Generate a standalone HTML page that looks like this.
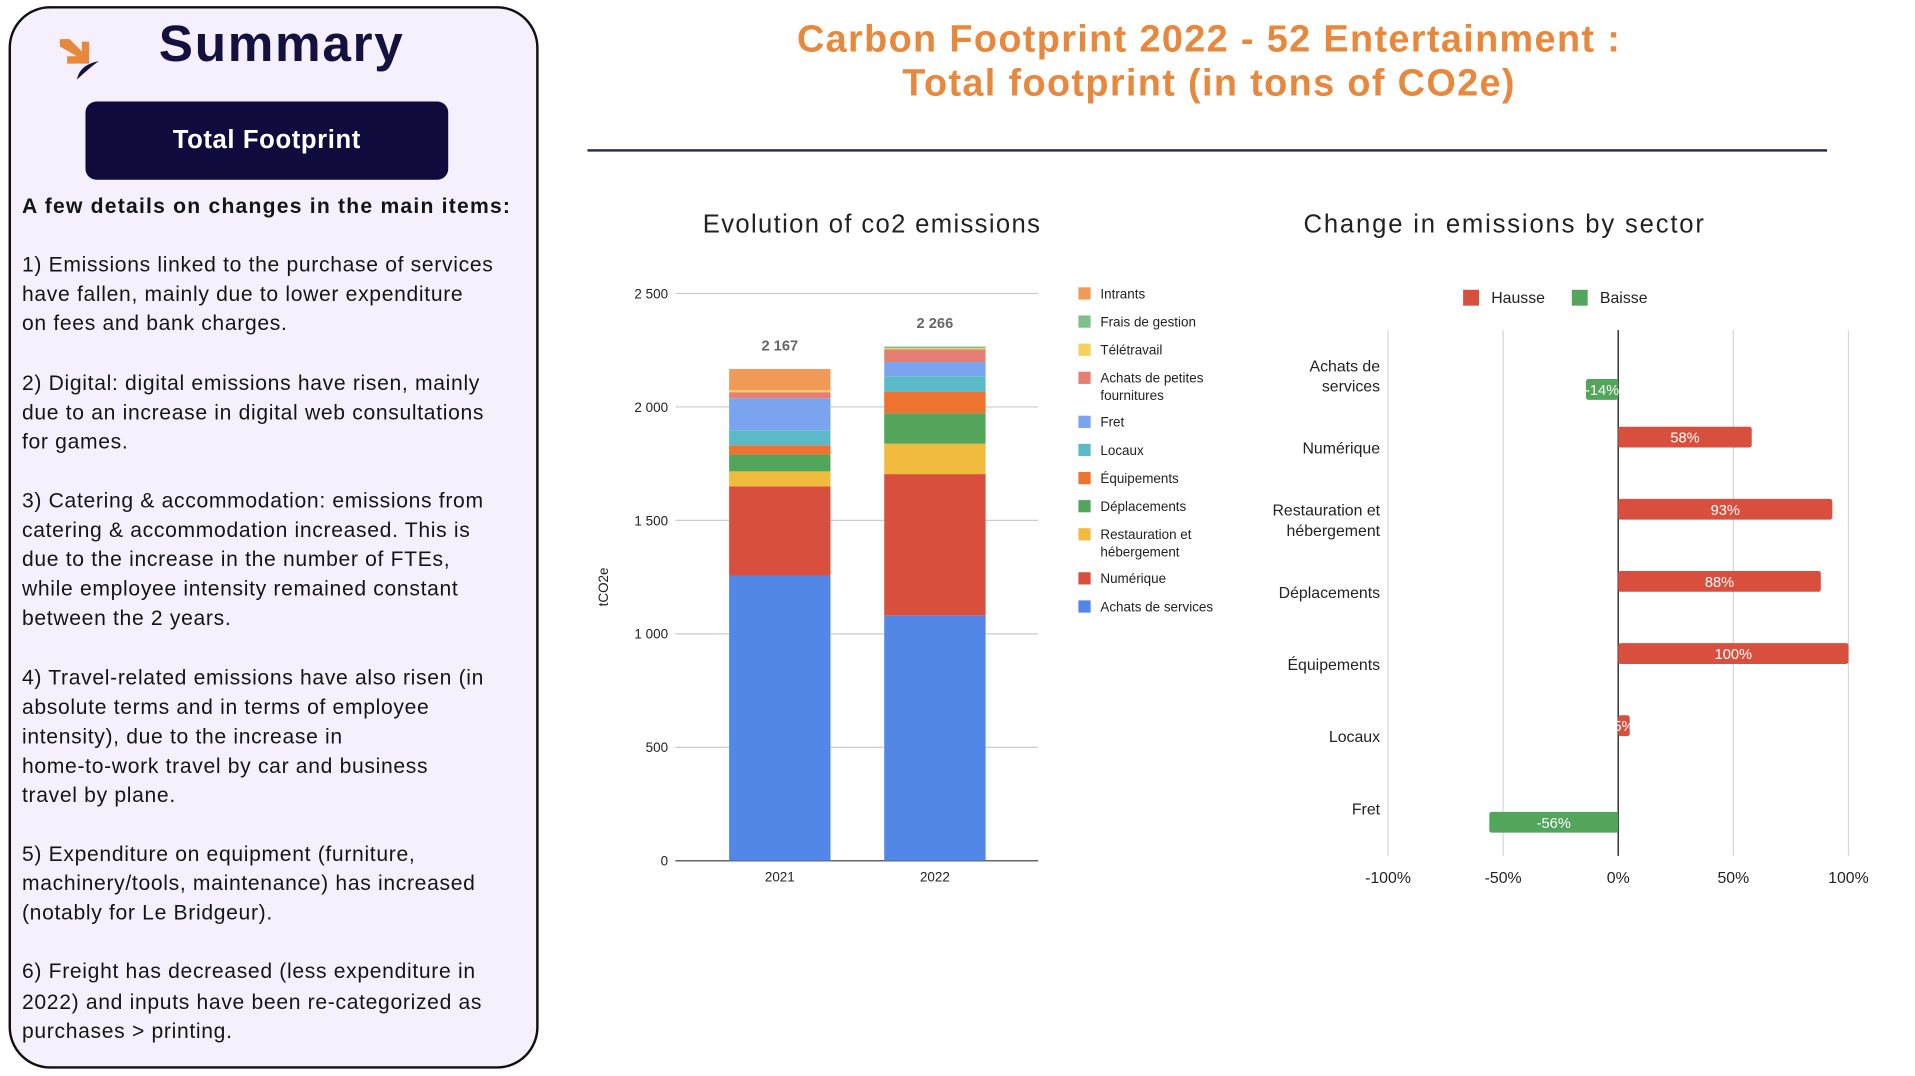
<!DOCTYPE html>
<html><head><meta charset="utf-8">
<style>
html,body{margin:0;padding:0;background:#fff;overflow:hidden;width:1915px;height:1076px}
#root{position:absolute;left:0;top:0;width:1568px;height:880px;transform:scale(1.22130,1.22273);transform-origin:0 0;font-family:"Liberation Sans",sans-serif}
.panel{position:absolute;left:7px;top:5px;width:430px;height:865px;border:2px solid #111;border-radius:34px;background:#f5f0fb}
.body{position:absolute;left:18px;top:156px;width:425px;font-size:17.3px;line-height:24.1px;color:#151515;white-space:nowrap;letter-spacing:0.55px}
.body p{margin:0 0 24.1px 0}
</style></head><body>
<div id="root">
<div class="panel"></div>
<svg style="position:absolute;left:45px;top:28px" width="40" height="40" viewBox="0 0 40 40">
<path d="M4 4 L12 4 L22 14 L22 6 L28 6 L28 24 L10 24 L10 18 L18 18 L4 10Z" fill="#e8883c"/>
<path d="M18 37 C20 28 26 24 36 22 C30 26 26 30 18 37Z" fill="#14113f"/>
</svg>
<div style="position:absolute;left:130px;top:12px;font-size:42px;font-weight:bold;color:#14113f;letter-spacing:1.4px">Summary</div>
<div style="position:absolute;left:70px;top:83px;width:297px;height:64px;background:#0f0b3c;border-radius:9px;color:#fff;font-weight:bold;font-size:21px;text-align:center;line-height:64px;letter-spacing:0.5px">Total Footprint</div>
<div class="body">
<p style="font-weight:bold;letter-spacing:1px">A few details on changes in the main items:</p>
<p>1) Emissions linked to the purchase of services<br>have fallen, mainly due to lower expenditure<br>on fees and bank charges.</p>
<p>2) Digital: digital emissions have risen, mainly<br>due to an increase in digital web consultations<br>for games.</p>
<p>3) Catering &amp; accommodation: emissions from<br>catering &amp; accommodation increased. This is<br>due to the increase in the number of FTEs,<br>while employee intensity remained constant<br>between the 2 years.</p>
<p>4) Travel-related emissions have also risen (in<br>absolute terms and in terms of employee<br>intensity), due to the increase in<br>home-to-work travel by car and business<br>travel by plane.</p>
<p>5) Expenditure on equipment (furniture,<br>machinery/tools, maintenance) has increased<br>(notably for Le Bridgeur).</p>
<p>6) Freight has decreased (less expenditure in<br>2022) and inputs have been re-categorized as<br>purchases &gt; printing.</p>
</div>
<div style="position:absolute;left:540px;top:14px;width:900px;text-align:center;font-size:31px;font-weight:bold;color:#e8883c;line-height:36px;letter-spacing:1.1px">Carbon Footprint 2022 - 52 Entertainment :<br>Total footprint (in tons of CO2e)</div>
<div style="position:absolute;left:481px;top:122px;width:1015px;height:2px;background:#2b2d55"></div>
<svg id="c1" style="position:absolute;left:0;top:0" width="1568" height="880"></svg>
<svg id="c2" style="position:absolute;left:0;top:0" width="1568" height="880"></svg>
</div>
<script>
const years=["2021","2022"];
const seriesNames=["Achats de services","Numérique","Restauration et hébergement","Déplacements","Équipements","Locaux","Fret","Achats de petites fournitures","Télétravail","Frais de gestion","Intrants"];
const v2021=[1257,393,66,74,41,66,141,27,9,0,93];
const v2022=[1080,624,134,134,94,69,63,55,6,7,0];
const yTicks=[0,500,1000,1500,2000,2500];
const colors=["#5287e8","#d94f3d","#f1bc3d","#52a55a","#ee7230","#5bbac8","#7ba4ee","#e57f73","#f5d15e","#7cc08a","#f09a58"];
const NS="http://www.w3.org/2000/svg";
function mk(svg,tag,attrs,txt){const e=document.createElementNS(NS,tag);for(const k in attrs)e.setAttribute(k,attrs[k]);if(txt!==undefined)e.textContent=txt;svg.appendChild(e);return e;}
const c1=document.getElementById('c1');
const y=v=>704-v*(464/2500);
mk(c1,'text',{x:714,y:190,'text-anchor':'middle','font-size':21,fill:'#222','letter-spacing':1.1},"Evolution of co2 emissions");
yTicks.forEach(t=>{
 const g=mk(c1,'line',{x1:553,x2:850,y1:y(t),y2:y(t),stroke:t===0?'#333':'#ccc','stroke-width':1});
 
 const l=mk(c1,'text',{x:547,y:y(t)+4,'text-anchor':'end','font-size':11,fill:'#222'},t.toLocaleString('fr-FR').replace(/\u202f|\u00a0/g,' '));
 
});
const yt=mk(c1,'text',{x:498,y:480,'text-anchor':'middle','font-size':11,fill:'#222',transform:'rotate(-90 498 480)'},"tCO2e");

const data=[v2021,v2022];const xs=[597,724];const bw=83;
data.forEach((vals,i)=>{
 let acc=0;
 vals.forEach((v,j)=>{ if(v<=0)return;
  const r=mk(c1,'rect',{x:xs[i],y:y(acc+v),width:bw,height:v*(464/2500),fill:colors[j]});
  
  acc+=v;});
 const tl=mk(c1,'text',{x:xs[i]+bw/2,y:y(acc)-15,'text-anchor':'middle','font-size':12,'font-weight':'bold',fill:'#666'},Math.round(acc).toLocaleString('fr-FR').replace(/\u202f|\u00a0/g,' '));
 
 const xl=mk(c1,'text',{x:xs[i]+bw/2,y:721,'text-anchor':'middle','font-size':11,fill:'#222'},years[i]);
 
});
const legY=[240,263,286,309,345,368,391,414,437,473,496];
const legLines=[["Intrants"],["Frais de gestion"],["Télétravail"],["Achats de petites","fournitures"],["Fret"],["Locaux"],["Équipements"],["Déplacements"],["Restauration et","hébergement"],["Numérique"],["Achats de services"]];
legLines.forEach((ls,k)=>{
 const j=10-k;
 const s=mk(c1,'rect',{x:883,y:legY[k]-5,width:10,height:10,fill:colors[j]});
 
 ls.forEach((t,m)=>{const e=mk(c1,'text',{x:901,y:legY[k]+4+m*14,'font-size':11,fill:'#222'},t);
 });
});

const sectors=[["Achats de","services"],["Numérique"],["Restauration et","hébergement"],["Déplacements"],["Équipements"],["Locaux"],["Fret"]];
const changes=[-14,58,93,88,100,5,-56];
const xTicks=[-100,-50,0,50,100];
const c2=document.getElementById('c2');
const x=v=>1325+v*1.885;
mk(c2,'text',{x:1232,y:190,'text-anchor':'middle','font-size':21,fill:'#222','letter-spacing':1.5},"Change in emissions by sector");
[["Hausse","#d94f3d",1198,1221],["Baisse","#52a55a",1287,1310]].forEach(l=>{
 const s=mk(c2,'rect',{x:l[2],y:237,width:13,height:13,fill:l[1]});
 
 const t=mk(c2,'text',{x:l[3],y:248,'font-size':13,fill:'#222'},l[0]);
 
});
xTicks.forEach(t=>{
 const g=mk(c2,'line',{x1:x(t),x2:x(t),y1:270,y2:700,stroke:t===0?'#333':'#d6d6d6','stroke-width':t===0?1.2:1});
 
 const l=mk(c2,'text',{x:x(t),y:722,'text-anchor':'middle','font-size':13,fill:'#222'},t+"%");
 
});
sectors.forEach((ls,i)=>{
 const cy=308+i*59;
 ls.forEach((t,m)=>{const e=mk(c2,'text',{x:1130,y:cy+4+(m-(ls.length-1)/2)*16.5,'text-anchor':'end','font-size':13,fill:'#222'},t);
 });
 const v=changes[i];const pos=v>=0;
 const by=pos?cy-18:cy+2;
 const r=mk(c2,'rect',{x:Math.min(x(0),x(v)),y:by,width:Math.abs(x(v)-x(0)),height:17,rx:2,fill:pos?'#d94f3d':'#52a55a'});
 
 const vl=mk(c2,'text',{x:(x(0)+x(v))/2,y:by+13,'text-anchor':'middle','font-size':12,fill:'#fff'},v+"%");
 
});
</script>
</body></html>
